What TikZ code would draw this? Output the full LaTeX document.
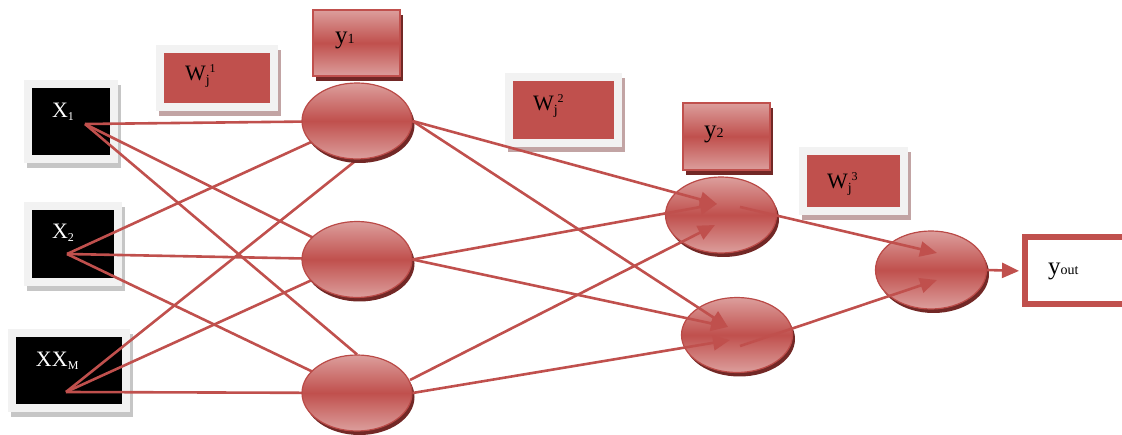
\documentclass[tikz,border=0pt]{standalone}
\usepackage{fontspec}
\setmainfont{Liberation Serif}
\usetikzlibrary{shapes.geometric,shadows,arrows.meta}
\definecolor{mr}{HTML}{C0504D}
\definecolor{lr}{HTML}{DC9E9C}
\definecolor{edgered}{HTML}{BA4A47}
\definecolor{shred}{HTML}{722826}
\definecolor{framegray}{HTML}{F2F2F2}
\definecolor{shgray}{HTML}{C6C6C6}
\definecolor{shpink}{HTML}{C2A4A4}
\pgfdeclareverticalshading{glass}{100bp}{color(0bp)=(lr); color(25bp)=(lr); color(50bp)=(mr); color(75bp)=(lr); color(100bp)=(lr)}
\pgfdeclarelayer{bg}
\pgfdeclarelayer{mid}
\pgfdeclarelayer{top}
\pgfsetlayers{bg,mid,main,top}
\newcommand\lsub[1]{\raisebox{-3pt}{\fontsize{12}{12}\selectfont #1}}
\newcommand\bsub[1]{{\fontsize{14}{14}\selectfont #1}}
\newcommand\bigy{{\fontsize{25}{28}\selectfont y}}
\newcommand\wj{\raisebox{-4pt}{\fontsize{14}{14}\selectfont j}}
\newcommand\wsup[1]{\raisebox{8pt}{\fontsize{12}{12}\selectfont #1}}
\tikzset{
  txtbox/.style={anchor=north west, inner sep=0pt, align=left, font=\fontsize{22}{26}\selectfont},
  inbox/.style={txtbox, fill=black, text=white, draw=framegray, line width=8pt,
    drop shadow={shadow xshift=3pt, shadow yshift=-5pt, fill=shgray, draw=shgray, line width=8pt, opacity=1}},
  wbox/.style={txtbox, fill=mr, text=black, draw=framegray, line width=8pt,
    drop shadow={shadow xshift=3pt, shadow yshift=-5pt, fill=shpink, draw=shpink, line width=8pt, opacity=1}},
  ybox/.style={txtbox, shading=glass, draw=mr, line width=2pt,
    drop shadow={shadow xshift=3pt, shadow yshift=-5pt, fill=shred, opacity=1}},
  outbox/.style={txtbox, fill=white, draw=mr, line width=6pt},
  neuron/.style={ellipse, draw=edgered, line width=1.2pt, shading=glass, inner sep=0pt,
    minimum width=110pt, minimum height=76pt,
    drop shadow={shadow xshift=2.5pt, shadow yshift=-4pt, fill=shred, opacity=1}},
  wire/.style={draw=mr, line width=2.6pt},
  arr/.style={wire, -{Triangle[length=17pt,width=15pt]}},
}
\begin{document}
\begin{tikzpicture}[x=1pt,y=-1pt]
\useasboundingbox (0,0) rectangle (1122,435);
% neurons
\node[neuron] (H1) at (357,121) {};
\node[neuron] (H2) at (357,259.5) {};
\node[neuron] (H3) at (357,393) {};
\node[neuron, minimum width=111pt] (O1) at (721,215) {};
\node[neuron, minimum width=111pt, minimum height=75pt] (O2) at (737,335) {};
\node[neuron, minimum width=111pt, minimum height=78pt] (F) at (931,270) {};
% output-label boxes
\node[ybox, text width=87pt, text height=34pt, text depth=32pt] (Y1) at (312,9) {\hspace*{22pt}\bigy\bsub{1}};
\node[ybox, text width=87pt, text height=35pt, text depth=32pt] (Y2) at (682,102) {\hspace*{21pt}\bigy\bsub{2}};
\begin{pgfonlayer}{bg}
\node[inbox, text width=86pt, text height=34pt, text depth=41pt] (X1) at (24,80) {\hspace*{24pt}X\lsub{1}};
\node[inbox, text width=90pt, text height=33pt, text depth=43pt] (X2) at (24,202) {\hspace*{24pt}X\lsub{2}};
\node[inbox, text width=114pt, text height=34pt, text depth=41pt] (XM) at (8,329) {\hspace*{24pt}XX\lsub{M}};
\node[wbox, text width=113.5pt, text height=32pt, text depth=26pt] (W1) at (156,45) {\hspace*{25pt}W\wj\wsup{1}};
\node[wbox, text width=109pt, text height=33.5pt, text depth=32.5pt] (W2) at (505,73.5) {\hspace*{24pt}W\wj\wsup{2}};
\node[wbox, text width=101pt, text height=37.5pt, text depth=22pt] (W3) at (799,147.5) {\hspace*{24pt}W\wj\wsup{3}};
\node[outbox, text width=118pt, text height=37.5pt, text depth=29.5pt] (Yout) at (1022,234.5) {\hspace*{23pt}\bigy\bsub{out}};
\end{pgfonlayer}
% anchor points
\coordinate (x1p) at (85,124);
\coordinate (x2p) at (67,254);
\coordinate (xmp) at (66,392);
\coordinate (t11) at (717,204);
\coordinate (t31) at (715,225);
\coordinate (t12) at (728,327);
\coordinate (t32) at (730,340);
\coordinate (o1s) at (740,207);
\coordinate (o2s) at (740,346);
\coordinate (f1) at (937,253);
\coordinate (f2) at (937,280);
\coordinate (h3a) at (410,380);
\begin{pgfonlayer}{mid}
\draw[wire] (x1p) -- (H1.center);
\draw[wire] (x1p) -- (H2.center);
\draw[wire] (x1p) -- (H3.north);
\draw[wire] (x2p) -- (H1.center);
\draw[wire] (x2p) -- (H2.center);
\draw[wire] (x2p) -- (H3.center);
\draw[wire] (xmp) -- (H1.south);
\draw[wire] (xmp) -- (H2.center);
\draw[wire] (xmp) -- (H3.center);
\end{pgfonlayer}
\begin{pgfonlayer}{top}
\draw[arr] (H1.east) -- (t11);
\draw[arr] (H2.east) -- (t11);
\draw[arr] (h3a) -- (t31);
\draw[arr] (H1.east) -- (t12);
\draw[arr] (H2.east) -- (t12);
\draw[arr] (H3.east) -- (t32);
\draw[arr] (o1s) -- (f1);
\draw[arr] (o2s) -- (f2);
\draw[arr, shorten >=3pt] (F.east) -- (Yout.west);
\end{pgfonlayer}
\end{tikzpicture}
\end{document}
